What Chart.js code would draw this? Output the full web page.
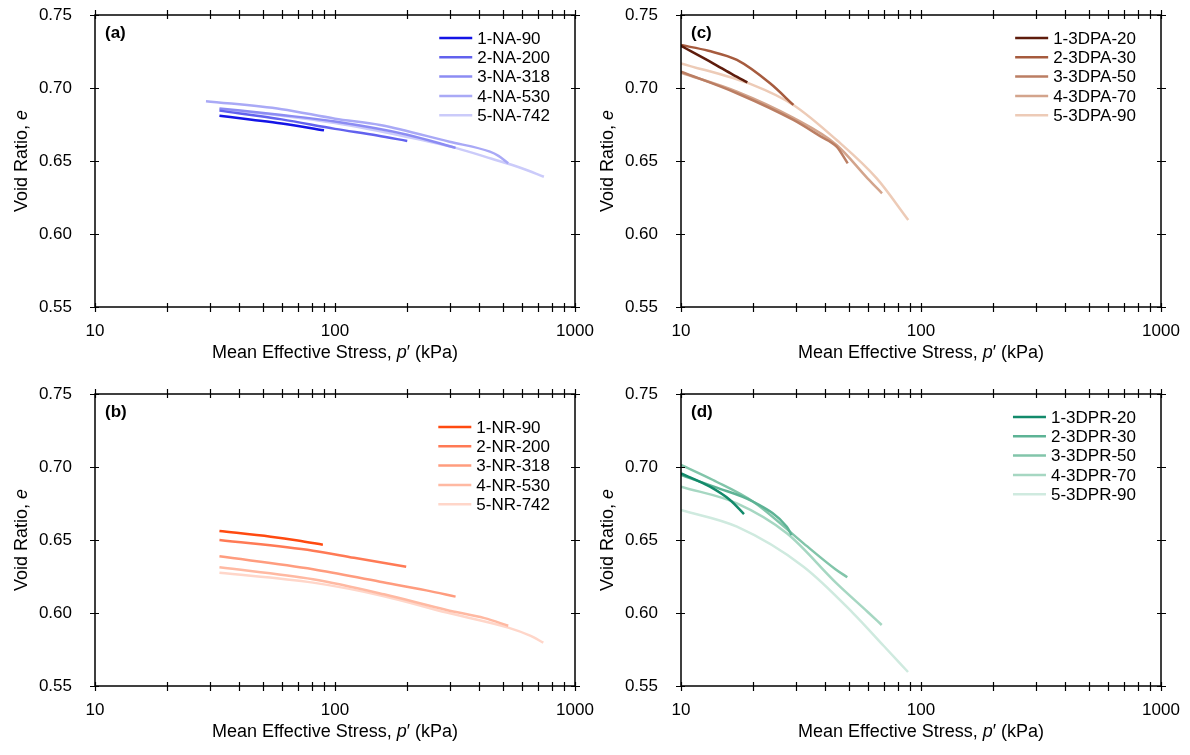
<!DOCTYPE html>
<html lang="en">
<head>
<meta charset="UTF-8">
<title>Void Ratio vs Mean Effective Stress</title>
<style>
  body { margin: 0; background: #fff; width: 1190px; height: 755px; overflow: hidden; }
  .panel { position: absolute; width: 595px; height: 376px; }
</style>
<script src="https://cdn.jsdelivr.net/npm/chart.js"></script>
</head>
<body>
<div class="panel" style="left:0;top:0"><canvas id="chartA" width="595" height="376"></canvas></div>
<div class="panel" style="left:586px;top:0"><canvas id="chartC" width="595" height="376"></canvas></div>
<div class="panel" style="left:0;top:379px"><canvas id="chartB" width="595" height="376"></canvas></div>
<div class="panel" style="left:586px;top:379px"><canvas id="chartD" width="595" height="376"></canvas></div>

<script>
// axis ticks
var pTicks = [10, 20, 30, 40, 50, 60, 70, 80, 90, 100, 200, 300, 400, 500, 600, 700, 800, 900, 1000];
var pTickLabels = { 10: '10', 100: '100', 1000: '1000' };
var eTicks = [0.55, 0.60, 0.65, 0.70, 0.75];

// (a) NA tests
var naNames = ['1-NA-90', '2-NA-200', '3-NA-318', '4-NA-530', '5-NA-742'];
var naColors = ['#1414e6', '#6262ee', '#8c8cf3', '#a9a9f6', '#cbcbfa'];
var naP = [
  [33, 45, 60, 90],
  [33, 60, 100, 150, 200],
  [33, 60, 100, 200, 318],
  [29, 60, 100, 154, 300, 442, 480, 527],
  [33, 60, 100, 200, 318, 450, 600, 742]
];
var naE = [
  [0.681, 0.6783, 0.6757, 0.671],
  [0.6845, 0.6785, 0.672, 0.6675, 0.6637],
  [0.686, 0.6815, 0.677, 0.668, 0.659],
  [0.691, 0.6855, 0.679, 0.6747, 0.6632, 0.6564, 0.6535, 0.6484],
  [0.6855, 0.681, 0.676, 0.6665, 0.659, 0.6515, 0.645, 0.6392]
];

// (b) NR tests
var nrNames = ['1-NR-90', '2-NR-200', '3-NR-318', '4-NR-530', '5-NR-742'];
var nrColors = ['#ff4a10', '#ff7a55', '#ff9c7e', '#ffb9a2', '#ffd6c9'];
var nrP = [
  [33, 54, 70, 89],
  [33, 81, 120, 198],
  [33, 81, 154, 240, 318],
  [33, 81, 160, 292, 420, 527],
  [33, 81, 160, 292, 527, 650, 738]
];
var nrE = [
  [0.6562, 0.6523, 0.6497, 0.6468],
  [0.650, 0.6427, 0.6378, 0.6317],
  [0.6388, 0.630, 0.6214, 0.6155, 0.6112],
  [0.6313, 0.6231, 0.6128, 0.6021, 0.5965, 0.5913],
  [0.6276, 0.6208, 0.6115, 0.6003, 0.590, 0.5845, 0.5797]
];

// (c) 3DPA tests
var dpaNames = ['1-3DPA-20', '2-3DPA-30', '3-3DPA-50', '4-3DPA-70', '5-3DPA-90'];
var dpaColors = ['#5e1c0c', '#a65b3e', '#bb7e63', '#d3a48c', '#edcbb7'];
var dpaP = [
  [10, 13.6, 16.5, 18.9],
  [10, 13, 17.1, 23.5, 29.4],
  [10, 17.1, 29.4, 38, 44.5, 49.5],
  [10, 17.1, 29.4, 44.5, 60, 68.8],
  [10, 20, 29.4, 44.5, 65.4, 88.5]
];
var dpaE = [
  [0.7288, 0.7169, 0.709, 0.7039],
  [0.7294, 0.7255, 0.7192, 0.7032, 0.6884],
  [0.7112, 0.6964, 0.6781, 0.667, 0.6598, 0.6484],
  [0.7105, 0.6975, 0.6795, 0.661, 0.638, 0.6279],
  [0.7169, 0.702, 0.6884, 0.6644, 0.6381, 0.6096]
];

// (d) 3DPR tests
var dprNames = ['1-3DPR-20', '2-3DPR-30', '3-3DPR-50', '4-3DPR-70', '5-3DPR-90'];
var dprColors = ['#138a6b', '#5db395', '#82c5aa', '#a6d7c2', '#cfeadf'];
var dprP = [
  [10, 13.2, 16, 18.3],
  [10, 14, 20, 27.6, 28.9],
  [10, 13.6, 20, 32.4, 44, 49.3],
  [10, 17.1, 27.6, 44.5, 60, 68.6],
  [10, 17.1, 32.4, 52.2, 70, 88.3]
];
var dprE = [
  [0.6957, 0.6865, 0.6774, 0.6678],
  [0.6945, 0.686, 0.6762, 0.6591, 0.6534],
  [0.7015, 0.6911, 0.6762, 0.6477, 0.630, 0.6245],
  [0.6865, 0.6751, 0.6546, 0.6203, 0.6007, 0.5918],
  [0.6705, 0.6591, 0.6317, 0.5998, 0.5774, 0.5596]
];

var FONT = 'Arial, "Liberation Sans", sans-serif';

// draw text pieces in sequence, some of them italic, centred on (x, y)
function drawRich(ctx, parts, x, y, size) {
  var widths = parts.map(function (p) {
    ctx.font = (p.italic ? 'italic ' : '') + size + 'px ' + FONT;
    return ctx.measureText(p.text).width;
  });
  var total = widths.reduce(function (s, w) { return s + w; }, 0);
  var cx = x - total / 2;
  parts.forEach(function (p, i) {
    ctx.font = (p.italic ? 'italic ' : '') + size + 'px ' + FONT;
    ctx.fillText(p.text, cx, y);
    cx += widths[i];
  });
}

// no extra label overhang padding, so the plot box sits where the layout puts it
function noPad(s) {
  s.paddingLeft = 0; s.paddingRight = 0; s.paddingTop = 0; s.paddingBottom = 0;
}

// box frame, crossing ticks on all sides, axis titles, panel letter and legend
var decorPlugin = {
  id: 'decor',
  afterDraw: function (chart, args, opts) {
    var ctx = chart.ctx, a = chart.chartArea;
    var xs = chart.scales.x, ys = chart.scales.y;
    ctx.save();
    ctx.strokeStyle = '#000';
    ctx.lineWidth = 1.5;
    ctx.strokeRect(a.left, a.top, a.right - a.left, a.bottom - a.top);
    ctx.lineWidth = 1.2;
    ctx.beginPath();
    xs.ticks.forEach(function (t) {
      var px = Math.round(xs.getPixelForValue(t.value)) + 0.5;
      ctx.moveTo(px, a.bottom - 4); ctx.lineTo(px, a.bottom + 5);
      ctx.moveTo(px, a.top - 5); ctx.lineTo(px, a.top + 4);
    });
    ys.ticks.forEach(function (t) {
      var py = Math.round(ys.getPixelForValue(t.value)) + 0.5;
      ctx.moveTo(a.left - 5, py); ctx.lineTo(a.left + 4, py);
      ctx.moveTo(a.right - 4, py); ctx.lineTo(a.right + 5, py);
    });
    ctx.stroke();

    ctx.fillStyle = '#000';
    ctx.textBaseline = 'middle';
    ctx.textAlign = 'left';
    drawRich(ctx, [{ text: 'Mean Effective Stress, ' }, { text: 'p', italic: true }, { text: '\u2032 (kPa)' }],
      (a.left + a.right) / 2, a.bottom + 46, 18);
    ctx.save();
    ctx.translate(22, (a.top + a.bottom) / 2);
    ctx.rotate(-Math.PI / 2);
    drawRich(ctx, [{ text: 'Void Ratio, ' }, { text: 'e', italic: true }], 0, 0, 18);
    ctx.restore();

    ctx.font = 'bold 17px ' + FONT;
    ctx.fillText(opts.letter, a.left + 10, a.top + 18);

    // legend
    ctx.font = '17px ' + FONT;
    var sets = chart.data.datasets;
    var maxW = 0;
    sets.forEach(function (d) { maxW = Math.max(maxW, ctx.measureText(d.label).width); });
    var textX = a.right - 25 - maxW;
    var lineEnd = textX - 5, lineStart = lineEnd - 33;
    sets.forEach(function (d, i) {
      var y = a.top + opts.legendTop + i * 19.3;
      ctx.strokeStyle = d.borderColor;
      ctx.lineWidth = 2.5;
      ctx.beginPath();
      ctx.moveTo(lineStart, y); ctx.lineTo(lineEnd, y);
      ctx.stroke();
      ctx.fillStyle = '#000';
      ctx.fillText(d.label, textX, y + 1);
    });
    ctx.restore();
  }
};

function makePanel(id, letter, legendTop, names, colors, pArr, eArr) {
  var datasets = names.map(function (name, i) {
    return {
      label: name,
      data: pArr[i].map(function (p, j) { return { x: p, y: eArr[i][j] }; }),
      borderColor: colors[i],
      backgroundColor: colors[i],
      borderWidth: 2.5,
      pointRadius: 0,
      showLine: true,
      fill: false,
      cubicInterpolationMode: 'monotone'
    };
  });
  var tickFont = { size: 17, family: FONT };
  new Chart(document.getElementById(id), {
    type: 'scatter',
    data: { datasets: datasets },
    plugins: [decorPlugin],
    options: {
      responsive: false,
      animation: false,
      layout: { padding: { top: 15, right: 20, left: 0, bottom: 0 } },
      plugins: {
        legend: { display: false },
        tooltip: { enabled: false },
        decor: { letter: letter, legendTop: legendTop }
      },
      scales: {
        x: {
          type: 'logarithmic',
          min: 10,
          max: 1000,
          afterBuildTicks: function (s) { s.ticks = pTicks.map(function (v) { return { value: v }; }); },
          afterFit: function (s) { s.height = 69; noPad(s); },
          grid: { display: false },
          border: { display: false },
          ticks: {
            autoSkip: false, maxRotation: 0, padding: 6, color: '#000', font: tickFont,
            callback: function (v) { return pTickLabels[v] || ''; }
          }
        },
        y: {
          min: 0.55,
          max: 0.75,
          afterBuildTicks: function (s) { s.ticks = eTicks.map(function (v) { return { value: v }; }); },
          afterFit: function (s) { s.width = 95; noPad(s); },
          grid: { display: false },
          border: { display: false },
          ticks: {
            padding: 15, color: '#000', font: tickFont,
            callback: function (v) { return v.toFixed(2); }
          }
        }
      }
    }
  });
}

makePanel('chartA', '(a)', 23, naNames, naColors, naP, naE);
makePanel('chartB', '(b)', 33, nrNames, nrColors, nrP, nrE);
makePanel('chartC', '(c)', 23, dpaNames, dpaColors, dpaP, dpaE);
makePanel('chartD', '(d)', 23, dprNames, dprColors, dprP, dprE);
</script>
</body>
</html>
